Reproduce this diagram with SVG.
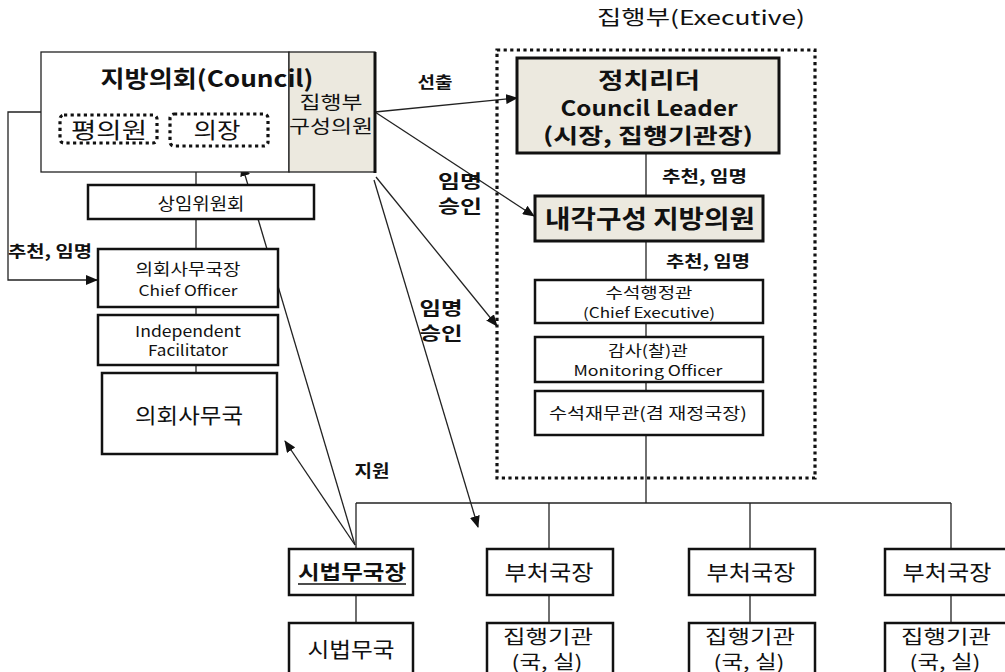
<svg xmlns="http://www.w3.org/2000/svg" width="1005" height="672" viewBox="0 0 1005 672">
<defs>
<marker id="ah" markerUnits="userSpaceOnUse" markerWidth="12" markerHeight="10" refX="11" refY="5" orient="auto">
<path d="M0,0 L12,5 L0,10 Z" fill="#111"/>
</marker>
<style>
text{font-family:"Noto Sans CJK KR","Noto Sans",sans-serif;fill:#111;}
.b{font-weight:bold;}
.c{text-anchor:middle;}
.ln{fill:none;stroke:#222;stroke-width:1.3;}
.ar{fill:none;stroke:#222;stroke-width:1.3;marker-end:url(#ah);}
.box{fill:#fff;stroke:#111;stroke-width:2.5;}
.thin{fill:#fff;stroke:#222;stroke-width:1.3;}
.sh{fill:#ECE9DF;stroke:#111;stroke-width:3;}
.dot{fill:none;stroke:#111;stroke-width:3.2;stroke-dasharray:3.2 3.4;}
</style>
</defs>
<rect width="1005" height="672" fill="#fff"/>

<g id="connectors">
<polyline class="ar" points="41,112 8,112 8,280 97,280"/>
<line class="ln" x1="196" y1="172" x2="196" y2="373"/>
<line class="ar" x1="375" y1="112" x2="517" y2="98"/>
<line class="ar" x1="375" y1="112" x2="534" y2="216"/>
<line class="ar" x1="376" y1="177" x2="497" y2="326"/>
<line class="ar" x1="374" y1="180" x2="478" y2="527"/>
<line class="ar" x1="355" y1="545" x2="285" y2="441"/>
<line class="ar" x1="355" y1="545" x2="242" y2="165"/>
<line class="ln" x1="646" y1="153" x2="646" y2="503"/>
<line class="ln" x1="356" y1="503" x2="951" y2="503"/>
<line class="ln" x1="356" y1="503" x2="356" y2="623"/>
<line class="ln" x1="549" y1="503" x2="549" y2="623"/>
<line class="ln" x1="750" y1="503" x2="750" y2="623"/>
<line class="ln" x1="951" y1="503" x2="951" y2="623"/>
</g>

<g id="executive-frame">
<rect class="dot" x="497" y="50" width="318" height="428"/>
<text x="701" y="25" class="c" font-size="20" textLength="208" lengthAdjust="spacingAndGlyphs">집행부(Executive)</text>
</g>

<g id="council">
<rect class="thin" x="41" y="52" width="248" height="120"/>
<rect x="289" y="52" width="86" height="120" fill="#ECE9DF" stroke="#222" stroke-width="1.3"/>
<line x1="375" y1="52" x2="375" y2="173" stroke="#111" stroke-width="3"/>
<text x="207" y="87" class="c b" font-size="23" textLength="213" lengthAdjust="spacingAndGlyphs">지방의회(Council)</text>
<text x="331" y="109" class="c" font-size="18" textLength="63" lengthAdjust="spacingAndGlyphs">집행부</text>
<text x="331" y="133" class="c" font-size="18" textLength="84" lengthAdjust="spacingAndGlyphs">구성의원</text>
</g>

<g id="member">
<rect class="dot" x="60" y="115" width="97" height="28" rx="4"/>
<text x="109" y="138" class="c" font-size="22" textLength="76" lengthAdjust="spacingAndGlyphs">평의원</text>
</g>
<g id="chair">
<rect class="dot" x="170" y="114" width="98" height="32" rx="4"/>
<text x="217" y="138" class="c" font-size="22" textLength="47" lengthAdjust="spacingAndGlyphs">의장</text>
</g>

<g id="standing-committee">
<rect class="box" x="88" y="185" width="226" height="34"/>
<text x="201" y="210" class="c" font-size="17" textLength="87" lengthAdjust="spacingAndGlyphs">상임위원회</text>
</g>

<g id="chief-officer">
<rect class="box" x="98" y="249" width="180" height="58"/>
<text x="188" y="275" class="c" font-size="16" textLength="105" lengthAdjust="spacingAndGlyphs">의회사무국장</text>
<text x="188" y="295.5" class="c" font-size="14.5" textLength="99" lengthAdjust="spacingAndGlyphs">Chief Officer</text>
</g>

<g id="facilitator">
<rect class="box" x="98" y="315" width="180" height="50"/>
<text x="188" y="337" class="c" font-size="15" textLength="106" lengthAdjust="spacingAndGlyphs">Independent</text>
<text x="188" y="356" class="c" font-size="15" textLength="80" lengthAdjust="spacingAndGlyphs">Facilitator</text>
</g>

<g id="secretariat">
<rect class="box" x="102" y="373" width="175" height="81"/>
<text x="189" y="423" class="c" font-size="21" textLength="108" lengthAdjust="spacingAndGlyphs">의회사무국</text>
</g>

<g id="labels">
<text x="8" y="257" class="b" font-size="16" textLength="84" lengthAdjust="spacingAndGlyphs">추천, 임명</text>
<text x="435" y="88" class="c b" font-size="16" textLength="35" lengthAdjust="spacingAndGlyphs">선출</text>
<text x="460" y="188" class="c b" font-size="18" textLength="44" lengthAdjust="spacingAndGlyphs">임명</text>
<text x="460" y="212.5" class="c b" font-size="18" textLength="44" lengthAdjust="spacingAndGlyphs">승인</text>
<text x="441" y="315" class="c b" font-size="18" textLength="43" lengthAdjust="spacingAndGlyphs">임명</text>
<text x="441" y="339.5" class="c b" font-size="18" textLength="43" lengthAdjust="spacingAndGlyphs">승인</text>
<text x="372" y="477" class="c b" font-size="17" textLength="35" lengthAdjust="spacingAndGlyphs">지원</text>
<text x="662" y="182" class="b" font-size="16" textLength="85" lengthAdjust="spacingAndGlyphs">추천, 임명</text>
<text x="666" y="267" class="b" font-size="16" textLength="84" lengthAdjust="spacingAndGlyphs">추천, 임명</text>
</g>

<g id="leader">
<rect class="sh" x="517" y="58" width="262" height="95"/>
<text x="649" y="88" class="c b" font-size="22" textLength="102" lengthAdjust="spacingAndGlyphs">정치리더</text>
<text x="649" y="116" class="c b" font-size="21" textLength="177" lengthAdjust="spacingAndGlyphs">Council Leader</text>
<text x="648" y="143" class="c b" font-size="21" textLength="210" lengthAdjust="spacingAndGlyphs">(시장, 집행기관장)</text>
</g>

<g id="cabinet">
<rect class="sh" x="535" y="196" width="228" height="45"/>
<text x="650" y="228" class="c b" font-size="25" textLength="210" lengthAdjust="spacingAndGlyphs">내각구성 지방의원</text>
</g>

<g id="chief-executive">
<rect class="box" x="535" y="280" width="228" height="43"/>
<text x="649" y="298" class="c" font-size="15" textLength="87" lengthAdjust="spacingAndGlyphs">수석행정관</text>
<text x="649" y="317.5" class="c" font-size="14" textLength="132" lengthAdjust="spacingAndGlyphs">(Chief Executive)</text>
</g>

<g id="monitoring-officer">
<rect class="box" x="535" y="337" width="228" height="45"/>
<text x="648" y="356" class="c" font-size="15" textLength="80" lengthAdjust="spacingAndGlyphs">감사(찰)관</text>
<text x="648" y="375.5" class="c" font-size="14" textLength="149" lengthAdjust="spacingAndGlyphs">Monitoring Officer</text>
</g>

<g id="finance-officer">
<rect class="box" x="535" y="391" width="228" height="44"/>
<text x="648" y="419" class="c" font-size="16" textLength="198" lengthAdjust="spacingAndGlyphs">수석재무관(겸  재정국장)</text>
</g>

<g id="legal-director">
<rect class="box" x="289" y="549" width="124" height="46" stroke-width="3"/>
<text x="352" y="580" class="c b" font-size="20" textLength="108" lengthAdjust="spacingAndGlyphs">시법무국장</text>
<line x1="298" y1="584" x2="406" y2="584" stroke="#111" stroke-width="1.3"/>
</g>
<g id="legal-office">
<rect class="box" x="289" y="623" width="124" height="60"/>
<text x="351" y="657" class="c" font-size="21" textLength="87" lengthAdjust="spacingAndGlyphs">시법무국</text>
</g>

<g id="dept-head-1">
<rect class="box" x="487" y="549" width="126" height="46"/>
<text x="549" y="580" class="c" font-size="21" textLength="89" lengthAdjust="spacingAndGlyphs">부처국장</text>
</g>
<g id="agency-1">
<rect class="box" x="487" y="623" width="126" height="60"/>
<text x="548" y="644" class="c" font-size="19" textLength="90" lengthAdjust="spacingAndGlyphs">집행기관</text>
<text x="547" y="669" class="c" font-size="19" textLength="71" lengthAdjust="spacingAndGlyphs">(국, 실)</text>
</g>

<g id="dept-head-2">
<rect class="box" x="689" y="549" width="126" height="46"/>
<text x="751" y="580" class="c" font-size="21" textLength="89" lengthAdjust="spacingAndGlyphs">부처국장</text>
</g>
<g id="agency-2">
<rect class="box" x="689" y="623" width="126" height="60"/>
<text x="750" y="644" class="c" font-size="19" textLength="90" lengthAdjust="spacingAndGlyphs">집행기관</text>
<text x="749" y="669" class="c" font-size="19" textLength="71" lengthAdjust="spacingAndGlyphs">(국, 실)</text>
</g>

<g id="dept-head-3">
<rect class="box" x="885" y="549" width="130" height="46"/>
<text x="947" y="580" class="c" font-size="21" textLength="89" lengthAdjust="spacingAndGlyphs">부처국장</text>
</g>
<g id="agency-3">
<rect class="box" x="885" y="623" width="130" height="60"/>
<text x="946" y="644" class="c" font-size="19" textLength="90" lengthAdjust="spacingAndGlyphs">집행기관</text>
<text x="945" y="669" class="c" font-size="19" textLength="71" lengthAdjust="spacingAndGlyphs">(국, 실)</text>
</g>
</svg>
